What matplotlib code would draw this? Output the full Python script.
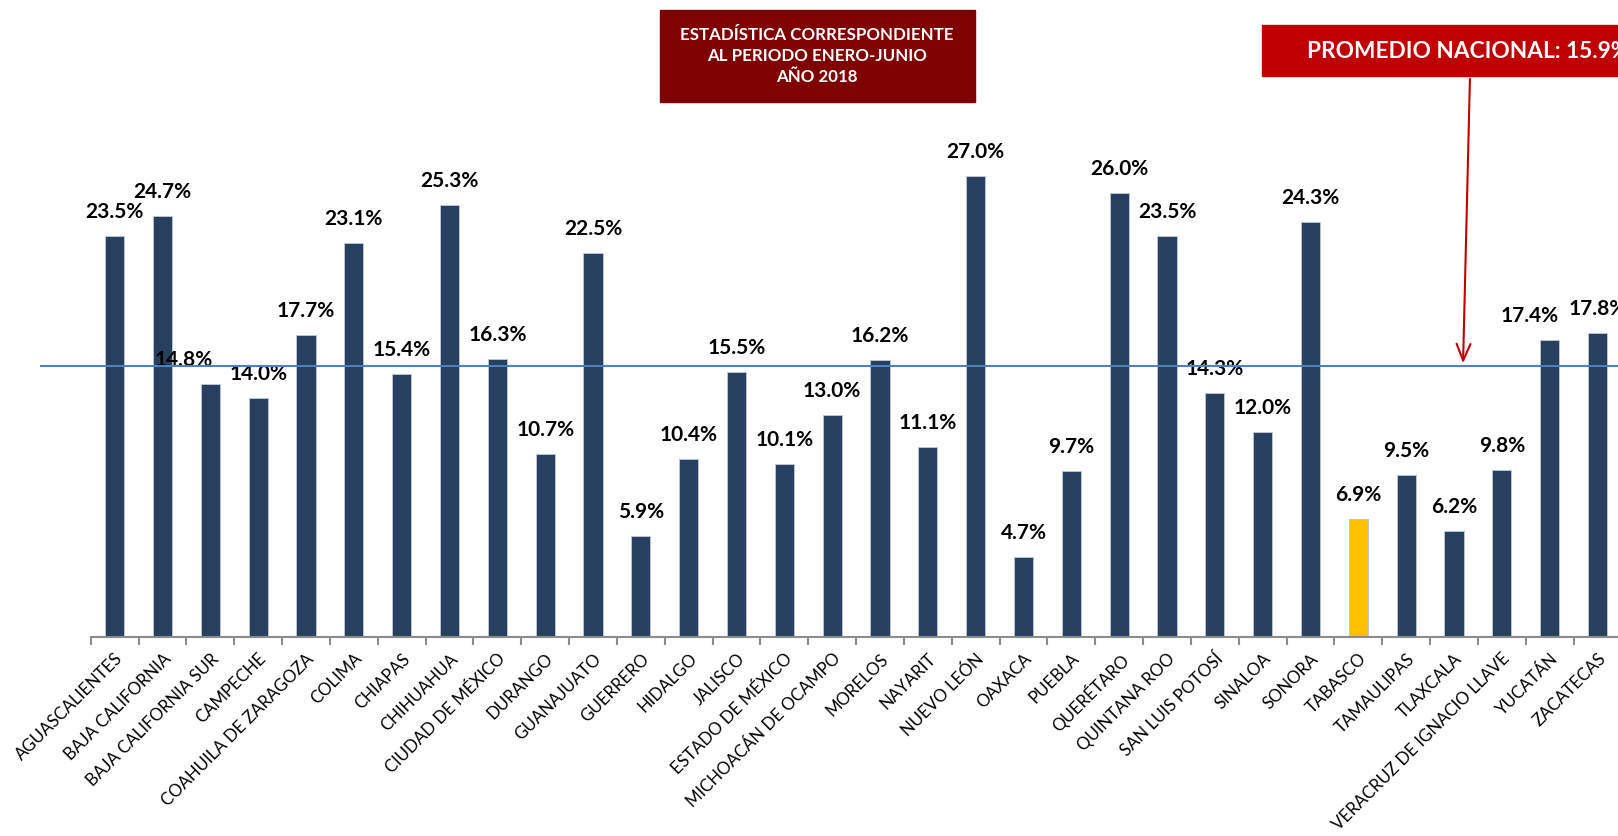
import matplotlib
matplotlib.use("Agg")
import matplotlib.pyplot as plt
from matplotlib.patches import Rectangle

estados = [
    "AGUASCALIENTES", "BAJA CALIFORNIA", "BAJA CALIFORNIA SUR", "CAMPECHE",
    "COAHUILA DE ZARAGOZA", "COLIMA", "CHIAPAS", "CHIHUAHUA", "CIUDAD DE MÉXICO",
    "DURANGO", "GUANAJUATO", "GUERRERO", "HIDALGO", "JALISCO", "ESTADO DE MÉXICO",
    "MICHOACÁN DE OCAMPO", "MORELOS", "NAYARIT", "NUEVO LEÓN", "OAXACA", "PUEBLA",
    "QUERÉTARO", "QUINTANA ROO", "SAN LUIS POTOSÍ", "SINALOA", "SONORA", "TABASCO",
    "TAMAULIPAS", "TLAXCALA", "VERACRUZ DE IGNACIO LLAVE", "YUCATÁN", "ZACATECAS",
]
valores = [
    23.5, 24.7, 14.8, 14.0, 17.7, 23.1, 15.4, 25.3, 16.3, 10.7, 22.5, 5.9, 10.4,
    15.5, 10.1, 13.0, 16.2, 11.1, 27.0, 4.7, 9.7, 26.0, 23.5, 14.3, 12.0, 24.3,
    6.9, 9.5, 6.2, 9.8, 17.4, 17.8,
]
promedio = 15.9
destacado = "TABASCO"

# desplazamiento horizontal de algunas etiquetas (en pixeles)
desplaz = {"BAJA CALIFORNIA SUR": -27, "YUCATÁN": -20}

plt.rcParams["font.family"] = ["Lato", "DejaVu Sans"]

fig = plt.figure(figsize=(16.18, 8.36), dpi=100)
ax = fig.add_axes([0.0561, 0.2384, 0.946, 0.7616])

x = list(range(len(estados)))
colores = ["#ffc000" if e == destacado else "#27405f" for e in estados]
ax.bar(x, valores, width=0.4, color=colores, edgecolor="#b8c6d8", linewidth=0.7, zorder=2)

ax.set_xlim(-0.5, len(estados) - 0.5)
ax.set_ylim(0, 37.34)

for i, v in enumerate(valores):
    dx = desplaz.get(estados[i], 0)
    ax.annotate(f"{v:.1f}%", (i, v), xytext=(dx, 24), textcoords="offset pixels",
                ha="center", va="center", fontsize=15, fontweight="bold", color="black")

ax.axhline(promedio, xmin=-0.0325, xmax=1.0, color="#4f81bd", lw=1.5, clip_on=False, zorder=3)

for s in ["top", "right", "left"]:
    ax.spines[s].set_visible(False)
ax.spines["bottom"].set_color("#8c8c8c")
ax.spines["bottom"].set_linewidth(1.5)
ax.set_yticks([])

ax.set_xticks(x)
ax.set_xticklabels(estados, rotation=45, ha="right", rotation_mode="anchor", fontsize=12.2)
ax.tick_params(axis="x", which="major", length=0, pad=10)
ax.set_xticks([i - 0.5 for i in range(len(estados) + 1)], minor=True)
ax.tick_params(axis="x", which="minor", length=6, width=1.5, color="#8c8c8c")

# cuadro de titulo
fig.patches.append(Rectangle((660 / 1618, 1 - 102 / 836), 315 / 1618, 92 / 836,
                             transform=fig.transFigure, color="#7f0000", zorder=5))
fig.text(817 / 1618, 1 - 56 / 836, "ESTADÍSTICA CORRESPONDIENTE\nAL PERIODO ENERO-JUNIO\nAÑO 2018",
         ha="center", va="center", color="white", fontsize=12.2, fontweight="bold",
         linespacing=1.35, zorder=6)

# cuadro del promedio
fig.patches.append(Rectangle((1262 / 1618, 1 - 76 / 836), 400 / 1618, 51 / 836,
                             transform=fig.transFigure, color="#c00000", zorder=5))
fig.text(1307 / 1618, 1 - 51 / 836, f"PROMEDIO NACIONAL: {promedio}%",
         ha="left", va="center", color="white", fontsize=16.3, fontweight="bold", zorder=6)

ax.annotate("", xy=(1463 / 1618, 1 - 366 / 836), xycoords="figure fraction",
            xytext=(1470 / 1618, 1 - 76 / 836), textcoords="figure fraction",
            arrowprops=dict(arrowstyle="->,head_length=1.2,head_width=0.5", color="#c00000", lw=1.5))

fig.savefig("out.png", dpi=100)
